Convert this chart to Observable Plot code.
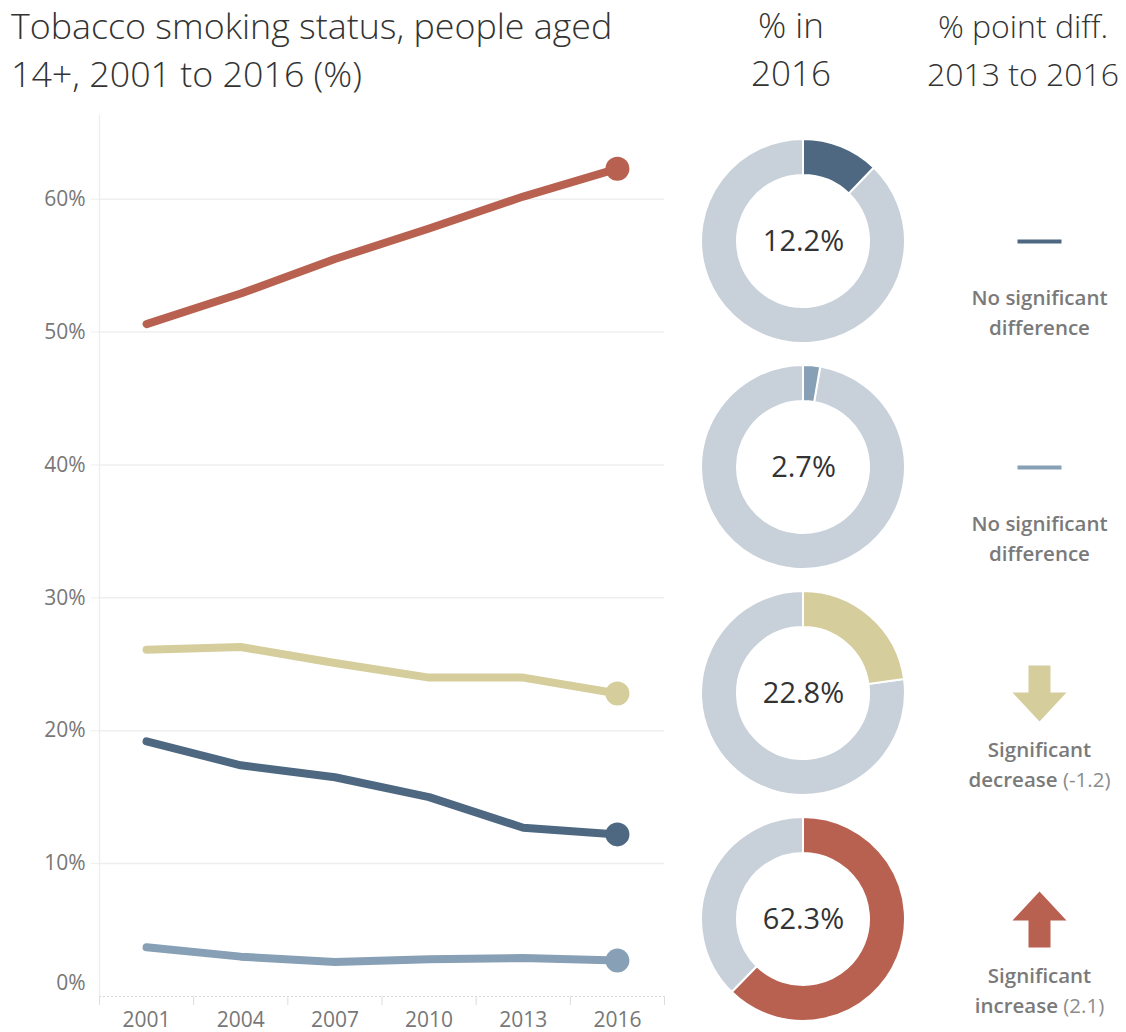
<!DOCTYPE html>
<html>
<head>
<meta charset="utf-8">
<script src="https://cdn.jsdelivr.net/npm/d3@7"></script>
<script src="https://cdn.jsdelivr.net/npm/@observablehq/plot@0.6"></script>
<style>
  body { margin: 0; background: #fff; }
  #root { position: relative; width: 1126px; height: 1032px; overflow: hidden; font-family: "Open Sans", "Noto Sans", sans-serif; }
  .hdr { position: absolute; font-weight: 300; color: #333; line-height: 48px; white-space: nowrap; }
  .ctr { text-align: center; width: 260px; }
  #line, #right { position: absolute; }
  #line { left: 0; top: 100px; }
  #right { left: 680px; top: 127px; }
</style>
</head>
<body>
<div id="root">
  <div class="hdr" style="left:11px;top:1px;font-size:35.8px;">Tobacco smoking status, people aged<br>14+, 2001 to 2016 (%)</div>
  <div class="hdr ctr" style="left:661px;top:1px;font-size:35px;">% in<br>2016</div>
  <div class="hdr ctr" style="left:893px;top:2px;font-size:32px;">% point diff.<br>2013 to 2016</div>
  <div id="line"></div>
  <div id="right"></div>
</div>
<script>
// ---------- data ----------
const years = [2001, 2004, 2007, 2010, 2013, 2016];
const seriesNames = ["Daily smokers", "Occasional smokers", "Ex-smokers", "Never smoked"];
const dailySmokers      = [19.2, 17.4, 16.5, 15.0, 12.7, 12.2];
const occasionalSmokers = [3.7, 3.0, 2.6, 2.8, 2.9, 2.7];
const exSmokers         = [26.1, 26.3, 25.1, 24.0, 24.0, 22.8];
const neverSmoked       = [50.6, 52.9, 55.5, 57.8, 60.2, 62.3];
const share2016   = [12.2, 2.7, 22.8, 62.3];
const changeType  = ["none", "none", "decrease", "increase"];
const changeText  = ["No significant\ndifference", "No significant\ndifference", "Significant\ndecrease (-1.2)", "Significant\nincrease (2.1)"];
const yTicks = [0, 10, 20, 30, 40, 50, 60];
const yearBounds = [1999.5, 2002.5, 2005.5, 2008.5, 2011.5, 2014.5, 2017.5];

// ---------- styles ----------
const palette = ["#4d6880", "#87a0b5", "#d6cd9c", "#b86150"];
const ringGray = "#c8d1da";
const font = '"Open Sans", "Noto Sans", sans-serif';

const seriesValues = [dailySmokers, occasionalSmokers, exSmokers, neverSmoked];
const lineRows = seriesNames.flatMap((s, k) => years.map((y, i) => ({series: s, year: y, value: seriesValues[k][i]})));
const lastRows = lineRows.filter(d => d.year === 2016);

const lineChart = Plot.plot({
  width: 680, height: 932,
  marginLeft: 99, marginRight: 16, marginTop: 15, marginBottom: 36,
  x: {domain: [1999.5, 2017.5]},
  y: {domain: [0, 66.3]},
  color: {domain: seriesNames, range: palette},
  style: {fontFamily: font, fontSize: "21px", color: "#777", background: "transparent"},
  marks: [
    Plot.ruleY(yTicks.filter(d => d > 0), {stroke: "#efefef", strokeWidth: 1.5}),
    Plot.ruleX([1999.5], {stroke: "#ececec", strokeWidth: 1.2}),
    Plot.ruleY([0], {stroke: "#d8d8d8", strokeDasharray: "2,2"}),
    Plot.axisY(yTicks.filter(d => d > 0), {tickFormat: d => d + "%", tickSize: 8, tickPadding: 6, stroke: "#eeeeee", label: null}),
    Plot.axisY([0], {tickFormat: d => d + "%", tickSize: 8, tickPadding: 6, dy: -13, stroke: "#ffffff", label: null}),
    Plot.axisX(yearBounds, {tickFormat: () => "", tickSize: 9, stroke: "#dddddd", label: null}),
    Plot.axisX(years, {tickFormat: d => String(d), tickSize: 0, tickPadding: 16, label: null}),
    Plot.line(lineRows, {x: "year", y: "value", z: "series", stroke: "series", strokeWidth: 8, strokeLinecap: "round", strokeLinejoin: "round"}),
    Plot.dot(lastRows, {x: "year", y: "value", fill: "series", r: 12})
  ]
});
document.getElementById("line").append(lineChart);

// ---------- right columns ----------
const rightRows = seriesNames.map((s, i) => ({series: s, value: share2016[i], type: changeType[i], label: changeText[i]}));

function donutRender(index, scales, values) {
  const g = d3.create("svg:g");
  const arc = d3.arc().innerRadius(66).outerRadius(102);
  for (const i of index) {
    const v = rightRows[i].value;
    const slices = d3.pie().sort(null)([v, 100 - v]);
    const gg = g.append("g").attr("transform", `translate(${values.x[i]},${values.y[i]})`);
    gg.append("path").attr("d", arc(slices[1])).attr("fill", ringGray).attr("stroke", "#fff").attr("stroke-width", 2);
    gg.append("path").attr("d", arc(slices[0])).attr("fill", values.fill[i]).attr("stroke", "#fff").attr("stroke-width", 2);
  }
  return g.node();
}

function makeSymbol(pts) {
  return {
    draw(context, size) {
      const s = Math.sqrt(size / Math.PI) / 28;
      pts.forEach(([px, py], j) => j ? context.lineTo(px * s, py * s) : context.moveTo(px * s, py * s));
      context.closePath();
    }
  };
}
const dashSymbol = makeSymbol([[-22, -2], [22, -2], [22, 2], [-22, 2]]);
const downSymbol = makeSymbol([[-11, -28], [11, -28], [11, -1], [27, -1], [0, 28], [-27, -1], [-11, -1]]);
const upSymbol   = makeSymbol([[-11, 28], [11, 28], [11, 1], [27, 1], [0, -28], [-27, 1], [-11, 1]]);

function labelRender(index, scales, values, dimensions, context, next) {
  const g = next(index, scales, values, dimensions, context);
  g.querySelectorAll("tspan").forEach(t => {
    const txt = t.textContent;
    const k = txt.indexOf("(");
    if (k > 0) {
      t.textContent = "";
      const a = document.createElementNS("http://www.w3.org/2000/svg", "tspan");
      a.textContent = txt.slice(0, k);
      const b = document.createElementNS("http://www.w3.org/2000/svg", "tspan");
      b.textContent = txt.slice(k);
      b.setAttribute("fill", "#8c8c8c");
      b.setAttribute("font-weight", "400");
      t.append(a, b);
    }
  });
  return g;
}

const rightChart = Plot.plot({
  width: 446, height: 906, margin: 0,
  x: {type: "point", domain: ["share", "change"], range: [123, 359], padding: 0, axis: null},
  y: {type: "point", domain: seriesNames, range: [113, 793], padding: 0, axis: null},
  color: {domain: seriesNames, range: palette},
  style: {fontFamily: font, background: "transparent"},
  marks: [
    Plot.dot(rightRows, {x: () => "share", y: "series", fill: "series", render: donutRender}),
    Plot.text(rightRows, {x: () => "change", y: "series", text: "label", dy: 69, lineHeight: 1.47, lineAnchor: "middle", fontSize: 20.5, fontWeight: 600, fill: "#7a7a7a", letterSpacing: 0.4, render: labelRender}),
    Plot.text(rightRows, {x: () => "share", y: "series", text: d => d.value.toFixed(1) + "%", fontSize: 29, fill: "#333"}),
    Plot.dot(rightRows.filter(d => d.type === "none"), {x: () => "change", y: "series", fill: "series", r: 28, symbol: dashSymbol}),
    Plot.dot(rightRows.filter(d => d.type === "decrease"), {x: () => "change", y: "series", fill: "series", r: 28, symbol: downSymbol}),
    Plot.dot(rightRows.filter(d => d.type === "increase"), {x: () => "change", y: "series", fill: "series", r: 28, symbol: upSymbol})
  ]
});
document.getElementById("right").append(rightChart);
</script>
</body>
</html>
